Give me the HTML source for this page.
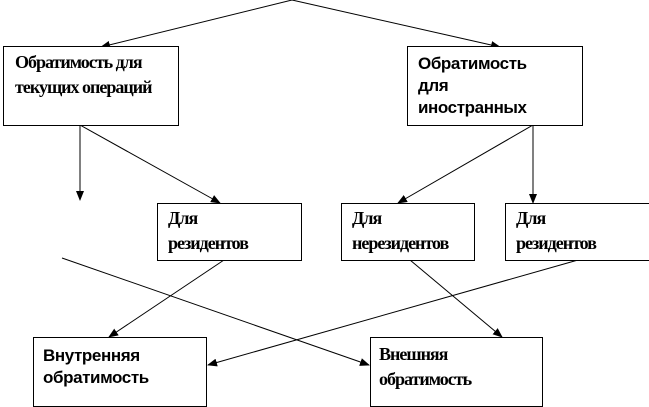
<!DOCTYPE html><html><head><meta charset="utf-8"><style>
body{margin:0;width:649px;height:407px;background:#fff;position:relative;overflow:hidden}
.b{position:absolute;border:1px solid #000;background:#fff;box-sizing:border-box;font-family:"Liberation Serif","Times New Roman",Times,serif;font-weight:bold;font-size:18px;line-height:25px;letter-spacing:-1px}
.b.s{font-family:"Liberation Sans",Arial,sans-serif;font-size:17px;line-height:22px;letter-spacing:-0.4px}
svg{position:absolute;left:0;top:0}
</style></head><body>
<svg width="649" height="407"><defs><marker id="a" markerWidth="10" markerHeight="8" refX="9" refY="4" orient="auto" markerUnits="userSpaceOnUse"><path d="M0,0L10,4L0,8z"/></marker></defs>
<g stroke="#000" stroke-width="1" marker-end="url(#a)">
<line x1="292" y1="0" x2="101" y2="47"/>
<line x1="292" y1="0" x2="500" y2="47"/>
<line x1="80" y1="125" x2="80" y2="200"/>
<line x1="80" y1="125" x2="220" y2="203"/>
<line x1="533" y1="125" x2="398" y2="203"/>
<line x1="533" y1="125" x2="533" y2="203"/>
<line x1="224" y1="260" x2="109" y2="337"/>
<line x1="62" y1="258" x2="369" y2="365"/>
<line x1="410" y1="260" x2="502" y2="337"/>
<line x1="578" y1="260" x2="208" y2="365"/>
</g></svg>
<div class="b" style="left:3px;top:46px;width:176px;height:80px;padding:3px 0 0 11px">Обратимость для<br>текущих операций</div>
<div class="b s" style="left:407px;top:46px;width:176px;height:80px;padding:6px 0 0 10px">Обратимость<br>для<br>иностранных</div>
<div class="b" style="left:157px;top:203px;width:145px;height:58px;padding:2px 0 0 10px">Для<br>резидентов</div>
<div class="b" style="left:341px;top:203px;width:134px;height:58px;padding:2px 0 0 10px">Для<br>нерезидентов</div>
<div class="b" style="left:505px;top:203px;width:145px;height:58px;padding:2px 0 0 10px">Для<br>резидентов</div>
<div class="b s" style="left:33px;top:337px;width:174px;height:70px;padding:7px 0 0 9px">Внутренняя<br>обратимость</div>
<div class="b" style="left:370px;top:337px;width:173px;height:70px;padding:4px 0 0 8px">Внешняя<br>обратимость</div>
</body></html>
